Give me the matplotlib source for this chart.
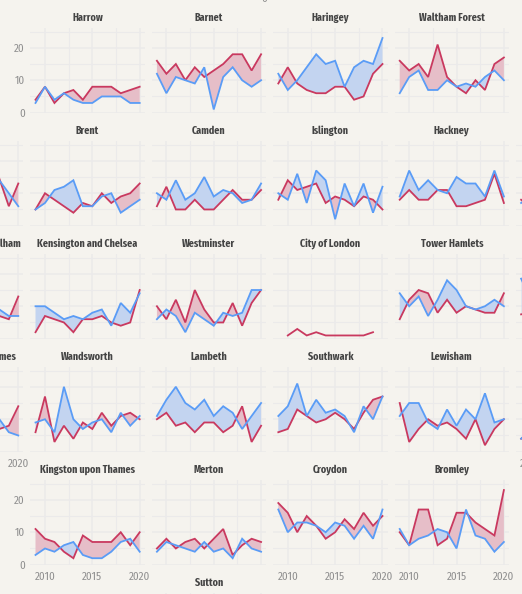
import numpy as np
import matplotlib
matplotlib.use("Agg")
import matplotlib.pyplot as plt
from matplotlib.transforms import offset_copy

nan = np.nan
years = np.arange(2009, 2021)

# values, 2009..2020 (nan = off the crop or no data)
harrow_r = [4, 8, 3, 6, 7, 4, 8, 8, 8, 6, 7, 8]
harrow_b = [3, 8, 4, 6, 4, 3, 3, 5, 5, 5, 3, 3]
barnet_r = [16, 12, 15, 10, 14, 11, 13, 15, 18, 18, 13, 18]
barnet_b = [12, 6, 11, 10, 9, 14, 1, 11, 14, 10, 8, 10]
haringey_r = [9, 14, 9, 7, 6, 6, 8, 8, 4, 5, 12, 15]
haringey_b = [12, 7, 10, 14, 18, 15, 16, 8, 14, 16, 15, 23]
waltham_r = [16, 13, 15, 11, 21, 11, 8, 6, 10, 7, 15, 17]
waltham_b = [6, 11, 13, 7, 7, 10, 8, 9, 8, 11, 13, 10]

ealing_r = [nan] * 9 + [14.5, 6, 13]
ealing_b = [nan] * 9 + [14, 10, 6]
brent_r = [5, 10, 8, 6, 4, 7, 6, 10, 7, 9, 10, 13]
brent_b = [5, 7, 11, 12, 14, 6, 6, 9, 10, 4, 6, 8]
camden_r = [6, 12, 5, 5, 8, 5, 5, 8, 11, 8, 8, 11]
camden_b = [10, 8, 14, 8, 10, 15, 9, 11, 10, 7, 8, 13]
islington_r = [8, 14, 11, 12, 13, 7, 9, 8, 6, 9, 8, 5]
islington_b = [10, 8, 16, 7, 17, 14, 2, 13, 6, 13, 4, 12]
hackney_r = [8, 11, 8, 8, 11, 11, 6, 6, 7, 8, 16, 7]
hackney_b = [9, 17, 11, 14, 11, 10, 15, 13, 13, 9, 17, 9]
redbridge_r = [8, 6] + [nan] * 10
redbridge_b = [7, 9] + [nan] * 10

hammersmith_r = [nan] * 9 + [7, 6, 13]
hammersmith_b = [nan] * 9 + [9, 7, 7]
kensington_r = [2, 7, 6, 5, 2, 6, 6, 7, 5, 4, 5, 15]
kensington_b = [10, 10, 8, 6, 7, 6, 8, 9, 4, 11, 8, 14]
westminster_r = [10, 6, 12, 5, 15, 9, 5, 5, 11, 4, 11, 15]
westminster_b = [6, 9, 7, 2, 8, 6, 4, 8, 7, 8, 15, 15]
city_r = [nan, 1, 3, 1, 2, 1, 1, 1, 1, 1, 2, nan]
city_b = [nan] * 12
tower_r = [6, 12, 15, 14, 8, 12, 8, 10, 9, 8, 8, 14]
tower_b = [14, 10, 13, 7, 12, 18, 15, 10, 9, 10, 12, 10]
newham_r = [7.5, 8] + [nan] * 10
newham_b = [18.5, 12] + [nan] * 10

richmond_r = [nan] * 9 + [7, 8, 14]
richmond_b = [nan] * 9 + [10, 6, 5]
wandsworth_r = [6, 17, 3, 8, 4, 9, 7, 12, 8, 11, 12, 10]
wandsworth_b = [9, 10, 6, 20, 10, 7, 9, 10, 6, 12, 8, 11]
lambeth_r = [10, 12, 8, 9, 6, 9, 9, 6, 8, 14, 3, 8]
lambeth_b = [11, 16, 20, 15, 13, 16, 11, 14, 12, 7, 11, 15]
southwark_r = [6, 7, 13, 11, 9, 10, 12, 10, 7, 12, 16, 17]
southwark_b = [11, 14, 21, 11, 16, 12, 13, 11, 6, 14, 10, 17]
lewisham_r = [15, 3, 7, 10, 8, 9, 7, 4, 10, 2, 7, 10]
lewisham_b = [11, 15, 15, 9, 7, 13, 8, 13, 10, 18, 9, 10]
greenwich_r = [4, 6] + [nan] * 10
greenwich_b = [4, 7] + [nan] * 10

kingston_r = [11, 8, 7, 4, 2, 9, 7, 7, 7, 10, 6, 10]
kingston_b = [3, 5, 4, 6, 7, 3, 2, 2, 4, 7, 8, 4]
merton_r = [5, 8, 5, 7, 8, 5, 8, 11, 3, 6, 8, 7]
merton_b = [4, 7, 6, 5, 4, 7, 4, 5, 2, 8, 5, 4]
croydon_r = [19, 16, 10, 15, 12, 8, 10, 14, 11, 16, 12, 15]
croydon_b = [17, 10, 13, 13, 12, 10, 13, 12, 8, 12, 8, 17]
bromley_r = [10, 6, 17, 17, 6, 8, 16, 16, 13, 11, 9, 23]
bromley_b = [11, 6, 8, 9, 11, 10, 5, 17, 9, 8, 4, 7]
sutton_r = [nan] * 12
sutton_b = [nan] * 12

# name, red, blue, row, col, x labels, y labels
panels = [
    ("Harrow", harrow_r, harrow_b, 0, 0, False, True),
    ("Barnet", barnet_r, barnet_b, 0, 1, False, False),
    ("Haringey", haringey_r, haringey_b, 0, 2, False, False),
    ("Waltham Forest", waltham_r, waltham_b, 0, 3, False, False),
    ("Ealing", ealing_r, ealing_b, 1, -1, False, False),
    ("Brent", brent_r, brent_b, 1, 0, False, False),
    ("Camden", camden_r, camden_b, 1, 1, False, False),
    ("Islington", islington_r, islington_b, 1, 2, False, False),
    ("Hackney", hackney_r, hackney_b, 1, 3, False, False),
    ("Redbridge", redbridge_r, redbridge_b, 1, 4, False, False),
    ("Hammersmith and Fulham", hammersmith_r, hammersmith_b, 2, -1, False, False),
    ("Kensington and Chelsea", kensington_r, kensington_b, 2, 0, False, False),
    ("Westminster", westminster_r, westminster_b, 2, 1, False, False),
    ("City of London", city_r, city_b, 2, 2, False, False),
    ("Tower Hamlets", tower_r, tower_b, 2, 3, False, False),
    ("Newham", newham_r, newham_b, 2, 4, False, False),
    ("Richmond upon Thames", richmond_r, richmond_b, 3, -1, True, False),
    ("Wandsworth", wandsworth_r, wandsworth_b, 3, 0, False, False),
    ("Lambeth", lambeth_r, lambeth_b, 3, 1, False, False),
    ("Southwark", southwark_r, southwark_b, 3, 2, False, False),
    ("Lewisham", lewisham_r, lewisham_b, 3, 3, False, False),
    ("Greenwich", greenwich_r, greenwich_b, 3, 4, True, False),
    ("Kingston upon Thames", kingston_r, kingston_b, 4, 0, True, True),
    ("Merton", merton_r, merton_b, 4, 1, False, False),
    ("Croydon", croydon_r, croydon_b, 4, 2, True, False),
    ("Bromley", bromley_r, bromley_b, 4, 3, True, False),
    ("Sutton", sutton_r, sutton_b, 5, 1, False, False),
]

W, H = 522, 594
BG = "#f5f3ee"
GRID = "#ebeaea"
RED = "#c9395f"
BLUE = "#5a9cf6"
RED_FILL = "#e6bec8"
BLUE_FILL = "#c3d4f0"
TICK = "#8f8f8f"
TITLE = "#444444"

plt.rcParams["font.family"] = ["Fira Sans Condensed", "Roboto Condensed", "DejaVu Sans"]

fig = plt.figure(figsize=(W / 100, H / 100), dpi=100, facecolor=BG)

for name, red, blue, row, col, show_x, show_y in panels:
    left = 30.3 + 121.4 * col
    bottom = 112.9 + 113 * row
    ax = fig.add_axes([left / W, 1 - bottom / H, 114.6 / W, 84.6 / H], facecolor=BG)
    ax.set_xlim(2008.45, 2020.55)
    ax.set_ylim(-0.06, 26)
    for s in ax.spines.values():
        s.set_visible(False)

    ax.set_xticks([2010, 2015, 2020])
    ax.set_xticks([2012.5, 2017.5], minor=True)
    ax.set_yticks([0, 10, 20])
    ax.set_yticks([5, 15, 25], minor=True)
    ax.grid(True, which="major", color=GRID, lw=1.1)
    ax.grid(True, which="minor", color=GRID, lw=0.8)
    ax.set_axisbelow(True)
    ax.tick_params(axis="x", which="both", length=0, pad=5, labelsize=8, labelcolor=TICK,
                   labelbottom=show_x)
    ax.tick_params(axis="y", which="both", length=0, pad=4, labelsize=8, labelcolor=TICK,
                   labelleft=show_y)

    r = np.array(red, dtype=float)
    b = np.array(blue, dtype=float)
    ax.fill_between(years, r, b, where=r >= b, interpolate=True, color=RED_FILL, lw=0)
    ax.fill_between(years, r, b, where=b >= r, interpolate=True, color=BLUE_FILL, lw=0)
    ax.plot(years, r, color=RED, lw=1.3, solid_joinstyle="miter")
    ax.plot(years, b, color=BLUE, lw=1.3, solid_joinstyle="miter")

    # titles sit a few px above the panel
    trans = offset_copy(ax.transAxes, fig=fig, y=3.7, units="points")
    ax.text(0.5, 1.0, name, transform=trans, ha="center", va="bottom",
            fontsize=7.8, fontweight="bold", color=TITLE, family="Fira Sans Extra Condensed",
            clip_on=False)

# bottom of a tick label from the row above the crop
fig.text(264.5 / W, 1.002, "0", ha="center", va="center", fontsize=8, color=TICK)

fig.savefig("out.png", dpi=100, facecolor=BG)
